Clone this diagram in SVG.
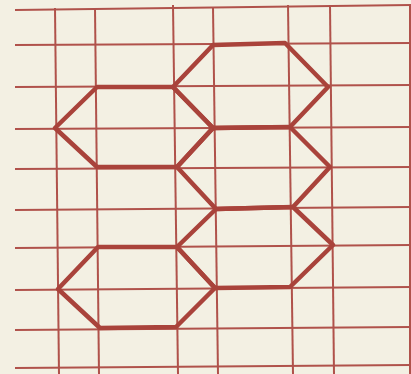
<svg xmlns="http://www.w3.org/2000/svg" width="411" height="374" viewBox="0 0 411 374">
<style>
.g line{stroke:#b0524b;stroke-width:2;stroke-linecap:butt}
.h polygon{fill:none;stroke:#a9433b;stroke-width:4.5;stroke-linejoin:round}
</style>
<rect width="411" height="374" fill="#f3f0e3"/>
<g id="grid" class="g">
<line x1="15" y1="10" x2="411" y2="5"/>
<line x1="15" y1="45" x2="411" y2="43"/>
<line x1="15" y1="87" x2="411" y2="85"/>
<line x1="15" y1="129" x2="411" y2="127"/>
<line x1="15" y1="169" x2="411" y2="167"/>
<line x1="15" y1="210" x2="411" y2="207"/>
<line x1="15" y1="248" x2="411" y2="245"/>
<line x1="15" y1="290" x2="411" y2="287"/>
<line x1="15" y1="330" x2="411" y2="327"/>
<line x1="15" y1="368" x2="411" y2="365"/>
<line x1="55" y1="8" x2="59" y2="374"/>
<line x1="95" y1="8" x2="99" y2="374"/>
<line x1="173" y1="5" x2="178" y2="374"/>
<line x1="213" y1="7" x2="218" y2="374"/>
<line x1="288" y1="5" x2="293" y2="374"/>
<line x1="330" y1="5" x2="334" y2="374"/>
<line x1="410" y1="5" x2="410" y2="374"/>
</g>
<g id="hexA" class="h"><polygon points="55,128 97,87 173,87 213,128 177,167 97,167"/></g>
<g id="hexB" class="h"><polygon points="173,87 213,45 285,43 328,87 290,127 213,128"/></g>
<g id="hexC" class="h"><polygon points="213,128 290,127 330,167 293,207 216,209 177,167"/></g>
<g id="hexD" class="h"><polygon points="216,209 293,207 333,245 290,287 215,288 177,247"/></g>
<g id="hexE" class="h"><polygon points="58,289 98,247 177,247 215,288 176,327 100,328"/></g>
</svg>
